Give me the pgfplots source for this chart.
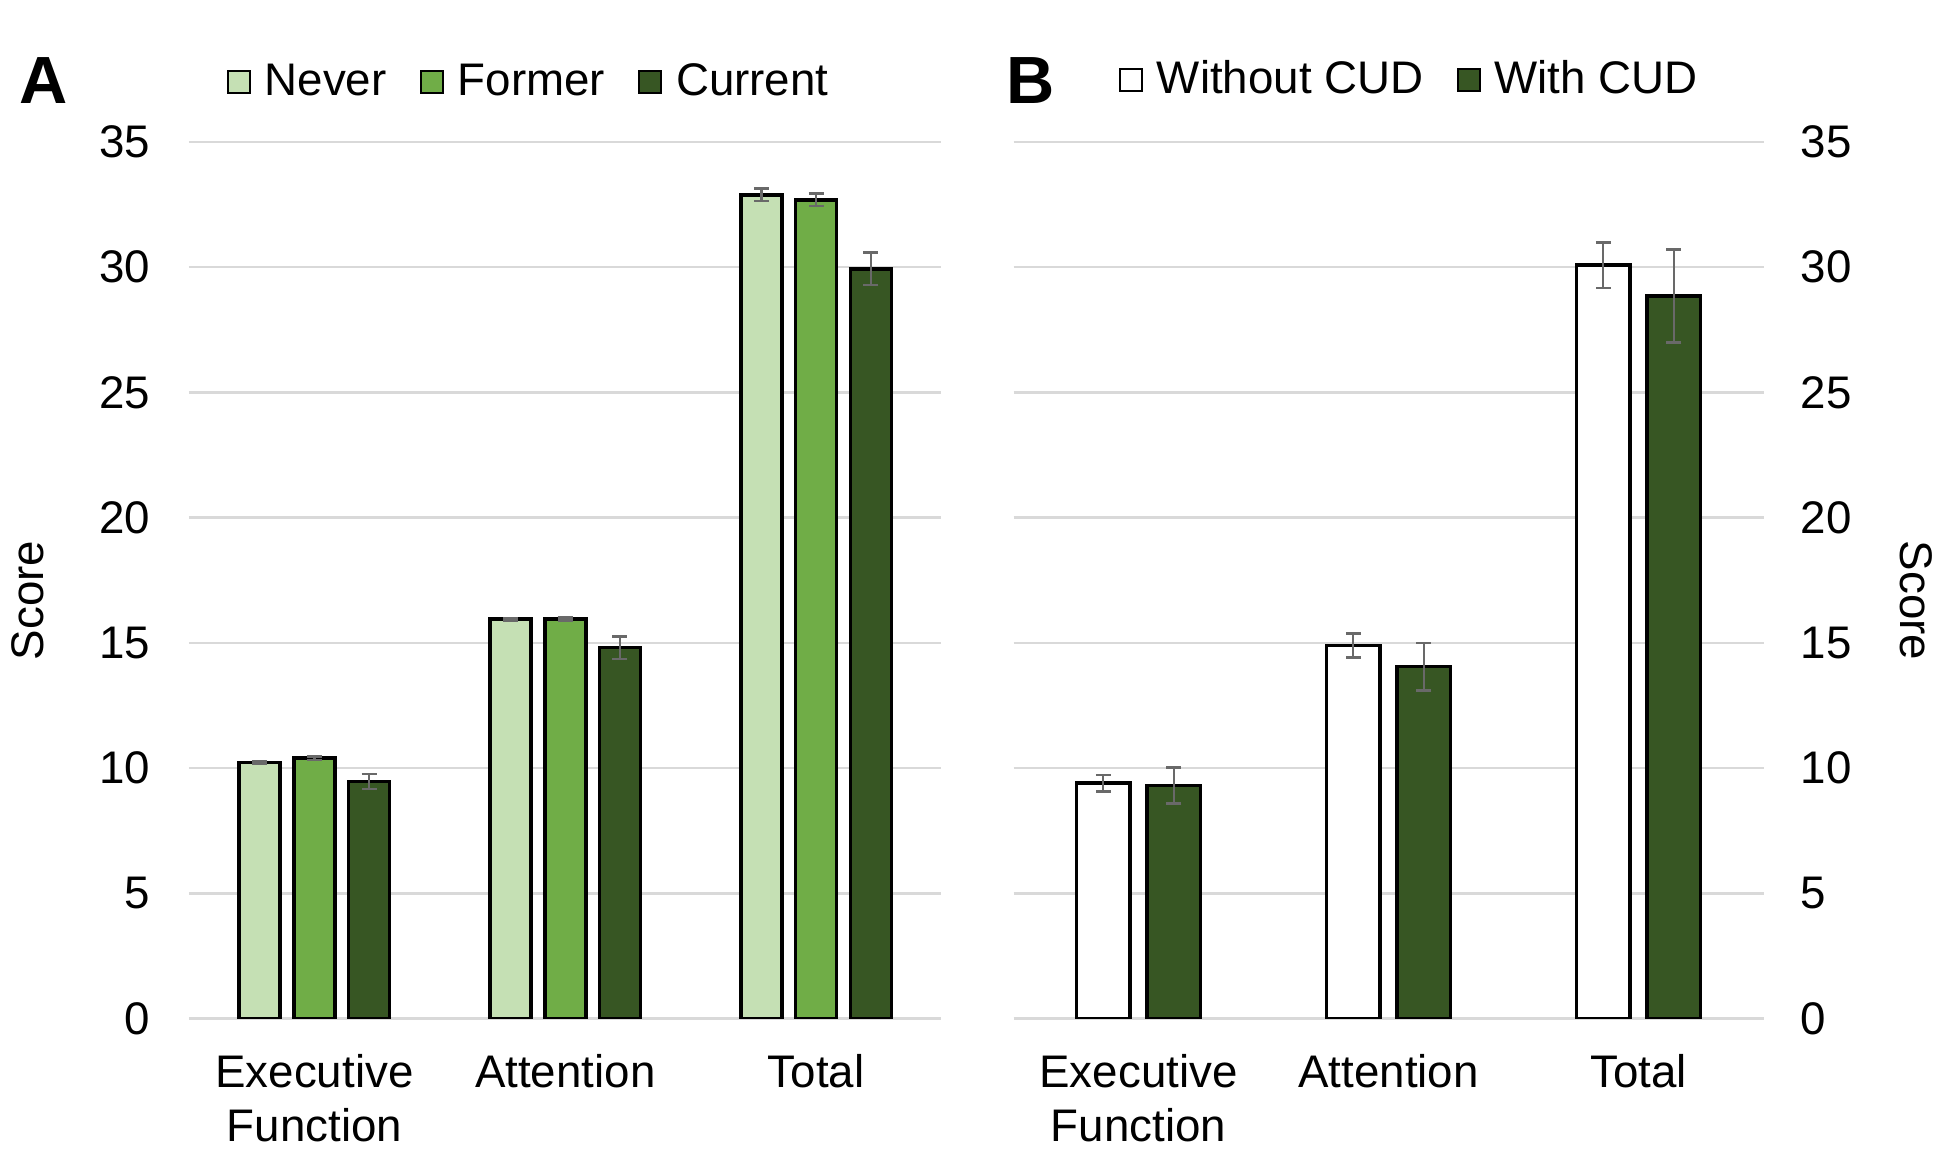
\documentclass[border=0pt]{standalone}
\usepackage{fontspec}
\setmainfont{Liberation Sans}
\usepackage{pgfplots}
\pgfplotsset{compat=1.18}
\definecolor{cnever}{RGB}{197,224,180}
\definecolor{cformer}{RGB}{112,173,71}
\definecolor{ccurrent}{RGB}{55,86,35}
\definecolor{gridc}{RGB}{217,217,217}
\definecolor{errc}{RGB}{105,105,105}
\newcommand{\tf}{\fontsize{13}{15.6}\selectfont}
\pgfplotsset{
  common/.style={
    scale only axis, height=87.65mm,
    ymin=0, ymax=35, ytick={0,5,...,35},
    xmin=-0.5, xmax=2.5, xtick={0,1,2},
    xticklabels={Executive\\Function, Attention, Total},
    x tick label style={align=center, font=\tf, yshift=-2.3mm},
    y tick label style={font=\tf},
    /pgf/number format/assume math mode=true,
    major tick length=0pt,
    ymajorgrids, grid style={gridc, line width=0.7pt},
    axis line style={draw=none},
    tick style={draw=none},
    legend style={draw=none, fill=none, font=\tf, legend columns=-1,
      /tikz/every odd column/.append style={column sep=0.7mm},
      /tikz/every even column/.append style={column sep=2.6mm}},
    ylabel={Score},
  },
  errb/.style={error bars/.cd, y dir=both, y explicit,
    error bar style={errc, line width=0.7pt},
    error mark options={errc, rotate=90, mark size=0.75mm, line width=0.7pt}},
}
\begin{document}
\begin{tikzpicture}
\useasboundingbox (0,0) rectangle (195mm,116mm);
\node[font=\bfseries\fontsize{19}{22}\selectfont] at (4.35mm,107.9mm) {A};
\node[font=\bfseries\fontsize{19}{22}\selectfont] at (103.1mm,107.9mm) {B};
% Panel A
\begin{axis}[common, at={(18.9mm,14.15mm)}, anchor=south west, width=75.25mm,
  ybar=1.37mm, bar width=4.1mm,
  legend image code/.code={\filldraw[#1, line width=0.6pt] (0mm,-1.1mm) rectangle (2.2mm,1.1mm);},
  y tick label style={xshift=-2.67mm},
  every axis y label/.style={at={(axis description cs:-0.214,0.477)}, anchor=center, rotate=90, font=\tf},
  legend style={at={(axis description cs:0.4545,1.068)}, anchor=center},
]
\addplot[fill=cnever, draw=black, line width=1pt, errb] coordinates {
  (0,10.23) +- (0,0.05)
  (1,15.95) +- (0,0.05)
  (2,32.89) +- (0,0.25)
};
\addplot[fill=cformer, draw=black, line width=1pt, errb] coordinates {
  (0,10.40) +- (0,0.07)
  (1,15.95) +- (0,0.06)
  (2,32.69) +- (0,0.25)
};
\addplot[fill=ccurrent, draw=black, line width=1pt, errb] coordinates {
  (0,9.46) +- (0,0.30)
  (1,14.81) +- (0,0.45)
  (2,29.93) +- (0,0.65)
};
\legend{Never, Former, Current}
\end{axis}
% Panel B
\begin{axis}[common, at={(101.35mm,14.15mm)}, anchor=south west, width=75mm,
  ybar=1.68mm, bar width=5.37mm,
  legend image code/.code={\filldraw[#1, line width=0.6pt] (0mm,-1.1mm) rectangle (2.2mm,1.1mm);},
  yticklabel pos=right,
  y tick label style={xshift=2.47mm},
  every axis y label/.style={at={(axis description cs:1.203,0.477)}, anchor=center, rotate=-90, font=\tf},
  legend style={at={(axis description cs:0.531,1.071)}, anchor=center},
]
\addplot[fill=white, draw=black, line width=1pt, errb] coordinates {
  (0,9.40) +- (0,0.33)
  (1,14.90) +- (0,0.48)
  (2,30.08) +- (0,0.90)
};
\addplot[fill=ccurrent, draw=black, line width=1pt, errb] coordinates {
  (0,9.30) +- (0,0.72)
  (1,14.05) +- (0,0.95)
  (2,28.85) +- (0,1.85)
};
\legend{Without CUD, With CUD}
\end{axis}
\end{tikzpicture}
\end{document}
